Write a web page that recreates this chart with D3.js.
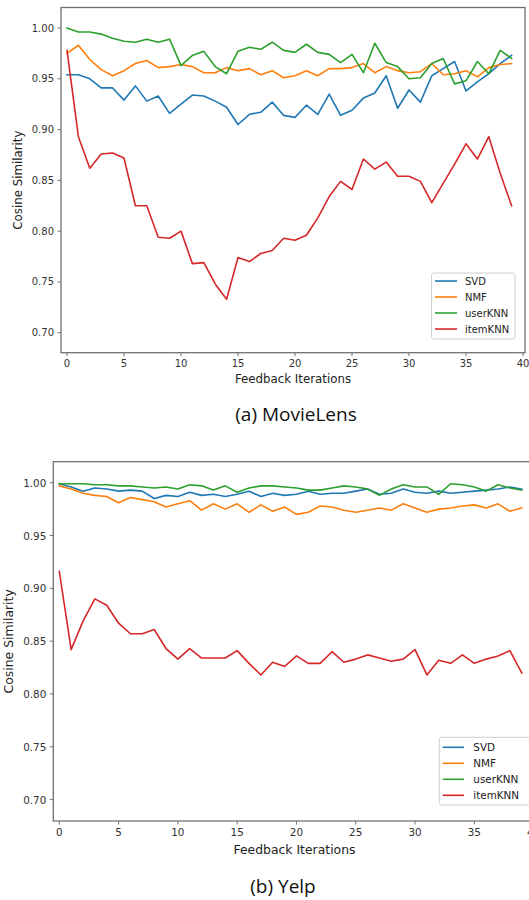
<!DOCTYPE html>
<html><head><meta charset="utf-8">
<script src="https://cdn.jsdelivr.net/npm/d3@7/dist/d3.min.js"></script>
<style>
html,body{margin:0;padding:0;background:#fff;}
svg{display:block;}
</style></head>
<body>
<svg id="chart" width="529" height="900"></svg>
<script>
const iterations = [0,1,2,3,4,5,6,7,8,9,10,11,12,13,14,15,16,17,18,19,20,21,22,23,24,25,26,27,28,29,30,31,32,33,34,35,36,37,38,39];
const seriesNames = ["SVD","NMF","userKNN","itemKNN"];
const seriesColors = ["#1f77b4","#ff7f0e","#2ca02c","#d62728"];
const yTicks = [0.70,0.75,0.80,0.85,0.90,0.95,1.00];
const xTicks = [0,5,10,15,20,25,30,35,40];
const captions = ["(a) MovieLens","(b) Yelp"];
const xLabel = "Feedback Iterations";
const yLabel = "Cosine Similarity";

// MovieLens
const mlSVD = [0.954,0.954,0.950,0.941,0.941,0.929,0.943,0.928,0.933,0.916,0.925,0.934,0.933,0.928,0.922,0.905,0.915,0.917,0.927,0.914,0.912,0.924,0.915,0.935,0.914,0.919,0.931,0.936,0.953,0.921,0.939,0.927,0.953,0.960,0.967,0.938,0.947,0.955,0.965,0.973];
const mlNMF = [0.975,0.983,0.969,0.959,0.953,0.958,0.965,0.968,0.961,0.962,0.964,0.962,0.956,0.956,0.961,0.958,0.960,0.954,0.958,0.951,0.953,0.958,0.953,0.960,0.960,0.961,0.965,0.956,0.962,0.958,0.956,0.957,0.965,0.954,0.955,0.958,0.952,0.961,0.964,0.965];
const mlUserKNN = [1.000,0.996,0.996,0.994,0.990,0.987,0.986,0.989,0.986,0.989,0.963,0.973,0.977,0.962,0.955,0.977,0.981,0.979,0.986,0.978,0.976,0.984,0.976,0.974,0.966,0.974,0.956,0.985,0.966,0.962,0.950,0.951,0.965,0.970,0.945,0.948,0.967,0.955,0.978,0.970];
const mlItemKNN = [0.978,0.893,0.862,0.876,0.877,0.872,0.825,0.825,0.794,0.793,0.800,0.768,0.769,0.748,0.733,0.774,0.770,0.778,0.781,0.793,0.791,0.796,0.813,0.834,0.849,0.841,0.871,0.861,0.868,0.854,0.854,0.849,0.828,0.847,0.866,0.886,0.871,0.893,0.857,0.825];

// Yelp
const ypSVD = [0.999,0.996,0.992,0.995,0.994,0.992,0.993,0.992,0.985,0.988,0.987,0.991,0.988,0.989,0.987,0.989,0.992,0.987,0.990,0.988,0.989,0.992,0.989,0.990,0.990,0.992,0.994,0.989,0.990,0.994,0.991,0.990,0.992,0.990,0.991,0.992,0.993,0.994,0.996,0.994];
const ypNMF = [0.997,0.994,0.990,0.988,0.987,0.981,0.986,0.984,0.982,0.977,0.980,0.983,0.974,0.980,0.975,0.980,0.972,0.979,0.973,0.977,0.970,0.972,0.978,0.977,0.974,0.972,0.974,0.976,0.974,0.980,0.976,0.972,0.975,0.976,0.978,0.979,0.976,0.980,0.973,0.976];
const ypUserKNN = [0.999,0.999,0.999,0.998,0.998,0.997,0.997,0.996,0.995,0.996,0.994,0.998,0.997,0.993,0.997,0.991,0.995,0.997,0.997,0.996,0.995,0.993,0.993,0.995,0.997,0.996,0.994,0.988,0.994,0.998,0.996,0.996,0.989,0.999,0.998,0.996,0.992,0.998,0.995,0.993];
const ypItemKNN = [0.916,0.842,0.869,0.890,0.884,0.867,0.857,0.857,0.861,0.843,0.833,0.843,0.834,0.834,0.834,0.841,0.829,0.818,0.830,0.826,0.836,0.829,0.829,0.840,0.830,0.833,0.837,0.834,0.831,0.833,0.842,0.818,0.832,0.829,0.837,0.829,0.833,0.836,0.841,0.820];

const svg = d3.select("#chart");
const FONT = "'DejaVu Sans', sans-serif";

function drawPanel(cfg, series) {
  const g = svg.append("g");
  const x = d3.scaleLinear().domain([0, 40]).range([cfg.x0, cfg.x40]);
  const y = d3.scaleLinear().domain([0.70, 1.00]).range([cfg.y70, cfg.y100]);
  const fs = cfg.fs;

  // clip
  const clipId = "clip" + cfg.id;
  svg.append("clipPath").attr("id", clipId).append("rect")
    .attr("x", cfg.left).attr("y", cfg.top)
    .attr("width", cfg.right - cfg.left).attr("height", cfg.bottom - cfg.top);

  const line = d3.line().x((d, i) => x(iterations[i])).y(d => y(d));
  const lg = g.append("g").attr("clip-path", `url(#${clipId})`);
  series.forEach((s, k) => {
    lg.append("path").datum(s)
      .attr("d", line)
      .attr("fill", "none")
      .attr("stroke", seriesColors[k])
      .attr("stroke-width", cfg.lw)
      .attr("stroke-linejoin", "round")
      .attr("stroke-linecap", "square");
  });

  // spines
  const spine = "#707070";
  g.append("rect").attr("x", cfg.left).attr("y", cfg.top)
    .attr("width", cfg.right - cfg.left).attr("height", cfg.bottom - cfg.top)
    .attr("fill", "none").attr("stroke", spine).attr("stroke-width", 1.3);

  // y ticks
  yTicks.forEach(t => {
    const py = y(t);
    g.append("line").attr("x1", cfg.left - 3.5).attr("x2", cfg.left)
      .attr("y1", py).attr("y2", py).attr("stroke", spine).attr("stroke-width", 1);
    g.append("text").attr("x", cfg.left - 7).attr("y", py)
      .attr("text-anchor", "end").attr("dominant-baseline", "central")
      .attr("font-family", FONT).attr("font-size", fs).attr("fill", "#333")
      .text(d3.format(".2f")(t));
  });
  // x ticks
  xTicks.forEach(t => {
    const px = x(t);
    g.append("line").attr("x1", px).attr("x2", px)
      .attr("y1", cfg.bottom).attr("y2", cfg.bottom + 3.5).attr("stroke", spine).attr("stroke-width", 1);
    g.append("text").attr("x", px).attr("y", cfg.bottom + 7)
      .attr("text-anchor", "middle").attr("dominant-baseline", "hanging")
      .attr("font-family", FONT).attr("font-size", fs).attr("fill", "#333")
      .text(t);
  });

  // axis labels
  g.append("text").attr("x", cfg.xLabelX).attr("y", cfg.xLabelY)
    .attr("text-anchor", "middle").attr("dominant-baseline", "central")
    .attr("font-family", FONT).attr("font-size", cfg.lfs).attr("fill", "#222")
    .text(xLabel);
  g.append("text")
    .attr("transform", `translate(${cfg.yLabelX},${(cfg.top + cfg.bottom) / 2}) rotate(-90)`)
    .attr("text-anchor", "middle").attr("dominant-baseline", "central")
    .attr("font-family", FONT).attr("font-size", cfg.lfs).attr("fill", "#222")
    .text(yLabel);

  // legend
  const L = cfg.legend;
  const lgd = g.append("g");
  lgd.append("rect").attr("x", L.x).attr("y", L.y).attr("width", L.w).attr("height", L.h)
    .attr("rx", 2.5).attr("fill", "#fff").attr("fill-opacity", 0.85)
    .attr("stroke", "#d0d0d0").attr("stroke-width", 1);
  seriesNames.forEach((n, k) => {
    const yy = L.y0 + k * L.dy;
    lgd.append("line").attr("x1", L.lx1).attr("x2", L.lx2).attr("y1", yy).attr("y2", yy)
      .attr("stroke", seriesColors[k]).attr("stroke-width", cfg.lw);
    lgd.append("text").attr("x", L.tx).attr("y", yy)
      .attr("dominant-baseline", "central")
      .attr("font-family", FONT).attr("font-size", L.fs).attr("fill", "#222")
      .text(n);
  });

  // caption
  svg.append("text").attr("x", cfg.capX).attr("y", cfg.capY)
    .attr("text-anchor", "middle")
    .attr("font-family", "'Open Sans', sans-serif").attr("font-size", cfg.capFs).attr("fill", "#111")
    .text(cfg.caption);
}

drawPanel({
  id: "a", x0: 67, x40: 523, y70: 332.7, y100: 28,
  left: 61, right: 525, top: 7.5, bottom: 352.7,
  fs: 10, lfs: 11.8, lw: 1.6,
  xLabelX: 293, xLabelY: 379, yLabelX: 18,
  legend: {x: 431.5, y: 273, w: 83.5, h: 66, y0: 281, dy: 16, lx1: 435, lx2: 457, tx: 465, fs: 10},
  capX: 296, capY: 420.5, capFs: 19, caption: captions[0]
}, [mlSVD, mlNMF, mlUserKNN, mlItemKNN]);

drawPanel({
  id: "b", x0: 59.3, x40: 533.6, y70: 799.6, y100: 482.7,
  left: 53.3, right: 540, top: 461.7, bottom: 821,
  fs: 10.4, lfs: 12.4, lw: 1.6,
  xLabelX: 294.5, xLabelY: 849, yLabelX: 8,
  legend: {x: 439.3, y: 737.3, w: 92, h: 67.7, y0: 747.3, dy: 16, lx1: 442.7, lx2: 464, tx: 473.3, fs: 10.4},
  capX: 283, capY: 892.5, capFs: 19, caption: captions[1]
}, [ypSVD, ypNMF, ypUserKNN, ypItemKNN]);
</script>
</body></html>
